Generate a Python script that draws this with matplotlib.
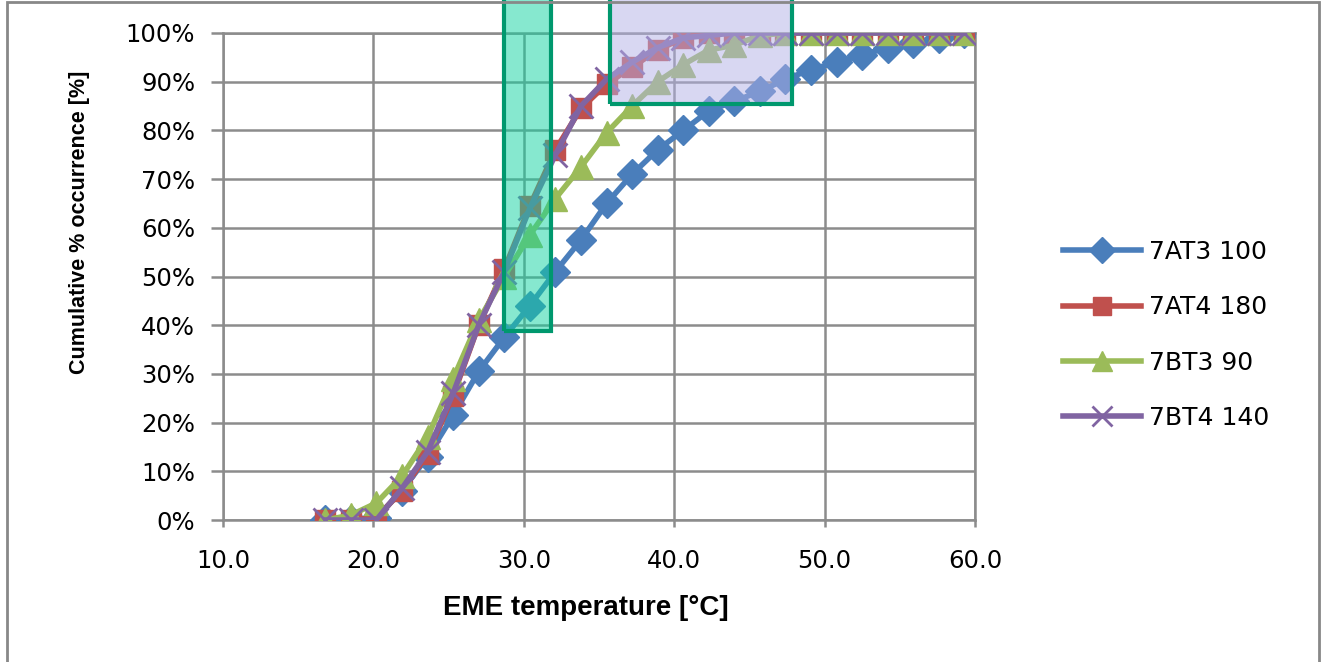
# Cumulative occurrence of EME temperature for four sensor positions

import matplotlib
matplotlib.use("Agg")
import matplotlib.pyplot as plt
from matplotlib.patches import Rectangle
from matplotlib.ticker import FuncFormatter, MultipleLocator

plt.rcParams['font.family'] = ['DejaVu Sans']

# temperature bins [degC]
temps = [16.8, 18.5, 20.2, 21.9, 23.6, 25.3, 27.0, 28.7, 30.4, 32.1, 33.8, 35.5, 37.2,
         38.9, 40.6, 42.3, 44.0, 45.7, 47.4, 49.1, 50.8, 52.5, 54.2, 55.9, 57.6, 59.3]

# cumulative occurrence [%]
at3_100 = [0, 0, 0.5, 6, 13, 21.5, 30.5, 37.5, 44, 51, 57.5, 65, 71,
           76, 80, 84, 86, 88, 90.5, 92.5, 94, 95.5, 97, 98, 99, 100]
at4_180 = [0, 0, 0.5, 6, 13.5, 25.5, 40, 51.5, 64.5, 76, 84.5, 89.5, 93,
           96.5, 99, 100, 100, 100, 100, 100, 100, 100, 100, 100, 100, 100]
bt3_90 = [0, 1, 3.5, 9, 17, 29, 41, 50, 58.5, 66, 72.5, 79.5, 85,
          90, 93.5, 96.5, 97.5, 99.5, 100, 100, 100, 100, 100, 100, 100, 100]
bt4_140 = [0, 0, 0, 6.5, 14, 26, 40, 51, 64, 75, 85, 90.5, 94,
           97, 99, 99.5, 100, 100, 100, 100, 100, 100, 100, 100, 100, 100]

labels = ["7AT3 100", "7AT4 180", "7BT3 90", "7BT4 140"]

# highlighted regions (x0, x1, y0, y1)
box1 = (28.7, 31.8, 38.8, 107.5)
box2 = (35.7, 47.8, 85.4, 107.5)

fig = plt.figure(figsize=(13.25, 6.62), dpi=100)
ax = fig.add_axes([223/1325, 1 - 520/662, 752/1325, 487/662])

grid_c = "#8c8c8c"

ax.plot(temps, at3_100, color="#4a7ebb", lw=4, marker="D", ms=15,
        mec="#4a7ebb", label=labels[0], zorder=3)
ax.plot(temps, at4_180, color="#c0504d", lw=4, marker="s", ms=15,
        mec="#c0504d", label=labels[1], zorder=4)
ax.plot(temps, bt3_90, color="#9bbb59", lw=4, marker="^", ms=17,
        mec="#9bbb59", label=labels[2], zorder=5)
ax.plot(temps, bt4_140, color="#8064a2", lw=4, marker="x", ms=17, mew=2,
        mec="#8064a2", label=labels[3], zorder=6)

for b, fc in ((box1, "#0fd3a0"), (box2, "#b3b1e7")):
    ax.add_patch(Rectangle((b[0], b[2]), b[1] - b[0], b[3] - b[2],
                           facecolor=fc, alpha=0.5, edgecolor="none",
                           clip_on=False, zorder=7))
    ax.add_patch(Rectangle((b[0], b[2]), b[1] - b[0], b[3] - b[2],
                           facecolor="none", edgecolor="#00986e", lw=3,
                           clip_on=False, zorder=8))

ax.set_xlim(10, 60)
ax.set_ylim(0, 100)
ax.xaxis.set_major_locator(MultipleLocator(10))
ax.yaxis.set_major_locator(MultipleLocator(10))
ax.xaxis.set_major_formatter(FuncFormatter(lambda v, p: "%.1f" % v))
ax.yaxis.set_major_formatter(FuncFormatter(lambda v, p: "%d%%" % v))
ax.grid(True, color=grid_c, lw=1.8, zorder=0)
ax.set_axisbelow(True)
for s in ax.spines.values():
    s.set_color(grid_c)
    s.set_linewidth(1.8)
ax.tick_params(axis="y", length=9, width=1.8, color=grid_c, pad=11, labelsize=17.5)
ax.tick_params(axis="x", length=5, width=1.8, color=grid_c, pad=16, labelsize=17.5)

lab_font = dict(family=["Liberation Sans Narrow", "Liberation Sans", "DejaVu Sans"],
                weight="bold")
fig.text(586/1325, 1 - 608/662, "EME temperature [°C]", ha="center", va="center",
         fontsize=20, **lab_font)
fig.text(80/1325, 1 - 222/662, "Cumulative % occurrence [%]", ha="center", va="center",
         rotation=90, fontsize=15.5, **lab_font)

fig.legend(loc="center left", bbox_to_anchor=(1063/1325, 1 - 335/662), frameon=False,
           fontsize=18, handlelength=3.1, handletextpad=0.35, labelspacing=1.25,
           borderpad=0, borderaxespad=0, markerscale=0.85)

# outer chart border
fig.add_artist(Rectangle((7/1325, -0.01), 1312/1325, 1.0 - 2/662 + 0.01,
                         transform=fig.transFigure, facecolor="none",
                         edgecolor="#888888", lw=2))

fig.savefig("out.png", dpi=100)
